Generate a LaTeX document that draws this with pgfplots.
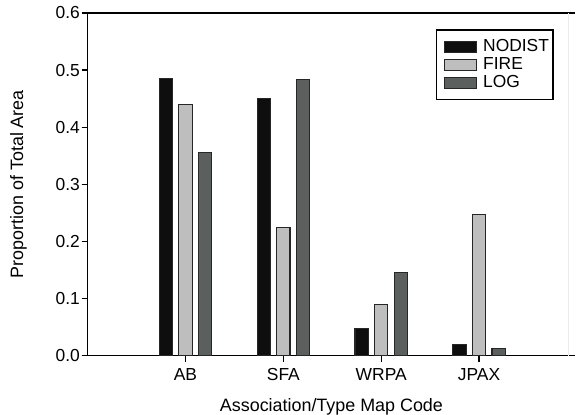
\documentclass[border=0pt]{standalone}
\usepackage{fontspec}
\setmainfont{Liberation Sans}
\usepackage{pgfplots}
\pgfplotsset{compat=1.18}
\definecolor{cnod}{HTML}{0E0E0E}
\definecolor{cfire}{HTML}{BEBEBE}
\definecolor{clog}{HTML}{5B605F}
\begin{document}
\begin{tikzpicture}
\begin{axis}[
  scale only axis, width=488.3bp, height=343bp,
  at={(0,0)}, anchor=south west,
  xmin=0, xmax=4.983, ymin=0, ymax=0.6,
  axis x line=box, axis y line=left,
  axis line style={-, black, line width=1.4bp},
  xtick={1,2,3,4}, xticklabels={AB,SFA,WRPA,JPAX},
  ytick={0,0.1,0.2,0.3,0.4,0.5,0.6},
  xtick pos=bottom, ytick pos=left,
  tick align=outside, major tick length=6bp,
  tick style={black, line width=1.2bp},
  /pgf/number format/assume math mode=true,
  yticklabel style={/pgf/number format/fixed, /pgf/number format/fixed zerofill, /pgf/number format/precision=1, inner sep=1.5bp},
  ticklabel style={font=\fontsize{17.5}{18}\selectfont},
  xticklabel style={inner sep=4bp, yshift=-3bp},
  xlabel={Association/Type Map Code},
  ylabel={Proportion of Total Area},
  label style={font=\fontsize{18}{18}\selectfont},
  xlabel style={at={(axis description cs:0.5,-0.1624)}, anchor=base, inner sep=0pt},
  ylabel style={at={(axis description cs:-0.1243,0.5)}, anchor=south, inner sep=0pt},
  legend style={at={(rel axis cs:0.9556,0.9525)}, anchor=north east, draw=black, line width=1.3bp,
    font=\fontsize{17.5}{17.5}\selectfont, inner xsep=3bp, inner ysep=8bp, row sep=0.5bp,
    cells={anchor=west}, nodes={inner sep=1bp, text height=12.5bp, text depth=3bp}},
  every axis plot post/.append style={legend image code/.code={\path (-5bp,0); \draw[##1, line width=0.9bp] (0bp,-5.5bp) rectangle (32bp,5bp); \path (37bp,0);}},
]
\addplot[ybar, bar width=0.136, bar shift=-0.2, fill=cnod, draw=black!85, line width=1.1bp]
  coordinates {(1,0.486) (2,0.450) (3,0.048) (4,0.019)};
\addlegendentry{NODIST}
\addplot[ybar, bar width=0.136, bar shift=0, fill=cfire, draw=black!85, line width=1.1bp]
  coordinates {(1,0.440) (2,0.225) (3,0.090) (4,0.247)};
\addlegendentry{FIRE}
\addplot[ybar, bar width=0.136, bar shift=0.2, fill=clog, draw=black!85, line width=1.1bp]
  coordinates {(1,0.356) (2,0.484) (3,0.145) (4,0.013)};
\addlegendentry{LOG}
\draw[black!8, line width=1bp] (rel axis cs:0.9857,0) -- (rel axis cs:0.9857,1);
\end{axis}
\path[use as bounding box] (-87.7bp,-59bp) rectangle (488.3bp,356bp);
\end{tikzpicture}
\end{document}
